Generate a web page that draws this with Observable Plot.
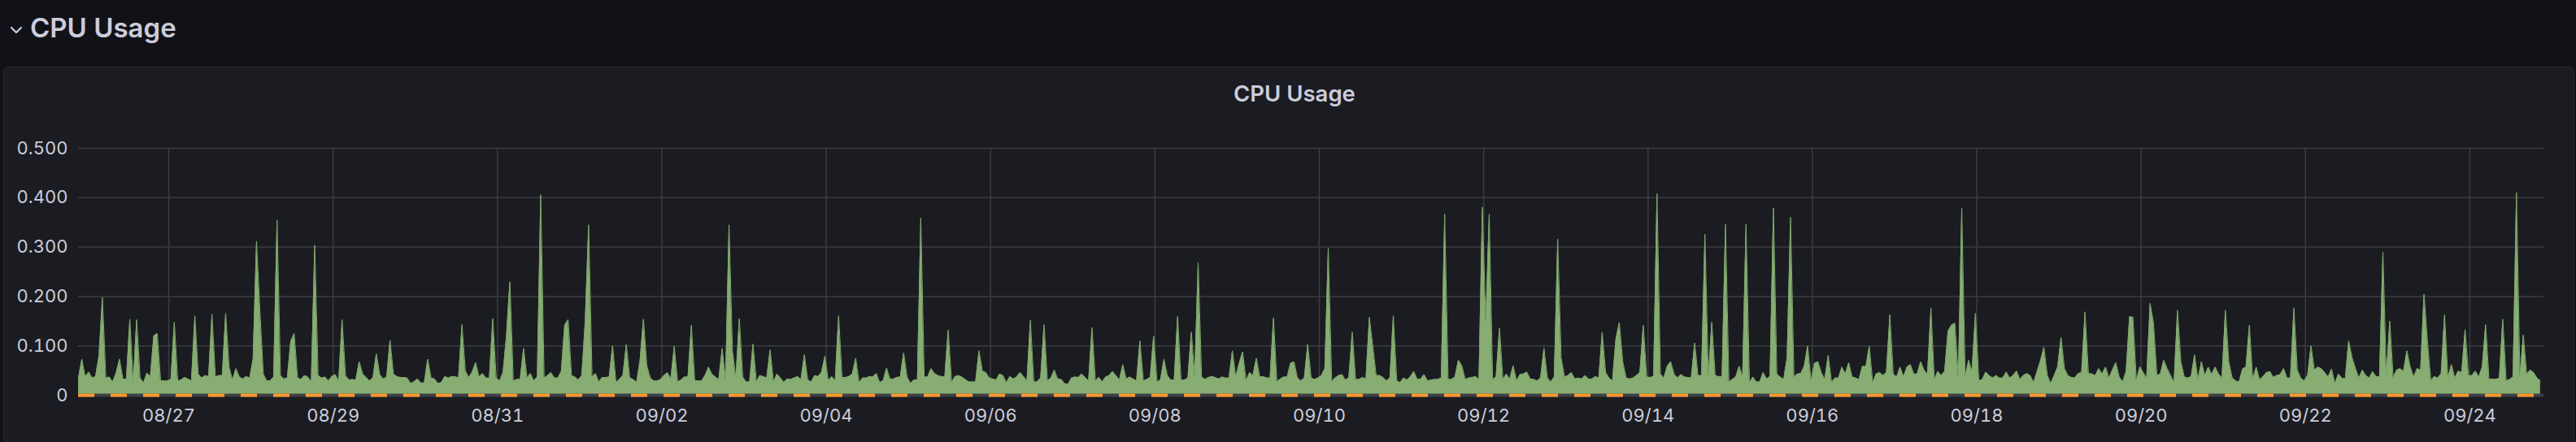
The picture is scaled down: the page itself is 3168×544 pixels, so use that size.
<!DOCTYPE html>
<html>
<head>
<meta charset="utf-8">
<script src="https://cdn.jsdelivr.net/npm/d3@7"></script>
<script src="https://cdn.jsdelivr.net/npm/@observablehq/plot@0.6"></script>
<style>
  html, body { margin: 0; padding: 0; background: #111217; width: 3168px; height: 544px; overflow: hidden; }
  body { font-family: Inter, "Open Sans", sans-serif; color: #ccccdc; position: relative; }
  #rowhead { position: absolute; left: 0; top: 0; height: 70px; width: 400px; }
  #rowtitle { position: absolute; left: 37px; top: 18px; font-size: 33px; line-height: 33px; font-weight: 600; color: #ccccdc; white-space: nowrap; }
  #panel { position: absolute; left: 4px; top: 82px; width: 3162px; height: 480px; background: #1b1c21; border: 1px solid #26272c; border-radius: 6px; box-sizing: border-box; }
  #ptitle { position: absolute; left: 0; width: 3184px; top: 101px; text-align: center; font-size: 27.5px; line-height: 28px; font-weight: 600; color: #ccccdc; }
  #chart { position: absolute; left: 0; top: 150px; }
</style>
</head>
<body>
<svg id="rowhead" width="400" height="70"><path d="M14,34 L20,40 L26,34" fill="none" stroke="#ccccdc" stroke-width="2.2" stroke-linecap="round" stroke-linejoin="round"/></svg>
<div id="rowtitle">CPU Usage</div>
<div id="panel"></div>
<div id="ptitle">CPU Usage</div>
<div id="chart"></div>
<script>
// ---- data (hourly CPU usage) ----
const seriesName = "CPU Usage";
const startTime = "2023-08-25T21:38:00Z";   // first sample
const stepHours = 1;
const cpuWeek1 = [
  .035,.073,.037,.047,.035,.038,.080,.198,.035,.037,.027,.045,.073,.033,.033,.154,.026,.153,.035,.025,.045,.038,.120,.125,
  .029,.029,.029,.032,.148,.029,.031,.036,.033,.029,.161,.043,.035,.040,.038,.164,.037,.040,.040,.166,.057,.031,.054,.037,
  .033,.038,.035,.073,.312,.170,.043,.029,.029,.037,.355,.040,.033,.035,.109,.125,.035,.032,.040,.037,.027,.304,.040,.035,
  .037,.029,.038,.042,.029,.153,.040,.031,.032,.031,.068,.043,.036,.029,.035,.084,.042,.033,.037,.111,.043,.038,.036,.036,
  .035,.024,.027,.033,.025,.025,.073,.035,.033,.024,.026,.038,.035,.038,.038,.035,.143,.049,.036,.047,.066,.037,.044,.035,
  .035,.155,.035,.029,.046,.120,.230,.029,.032,.032,.095,.035,.044,.029,.037,.406,.035,.040,.046,.035,.035,.048,.142,.153,
  .040,.037,.031,.040,.150,.345,.037,.044,.027,.036,.036,.037,.100,.026,.032,.040,.103,.035,.032,.026,.070,.154,.060,.035
];
const cpuWeek2 = [
  .029,.029,.032,.040,.046,.033,.099,.027,.031,.037,.037,.142,.029,.029,.029,.040,.057,.043,.037,.032,.095,.032,.345,.090,
  .035,.155,.037,.027,.027,.104,.027,.040,.038,.035,.092,.027,.043,.035,.026,.033,.032,.035,.038,.032,.082,.031,.027,.040,
  .038,.046,.079,.029,.038,.029,.161,.036,.036,.038,.043,.075,.025,.035,.035,.038,.037,.044,.026,.029,.055,.033,.033,.036,
  .037,.086,.037,.024,.031,.031,.359,.037,.037,.054,.044,.040,.038,.037,.132,.026,.038,.040,.037,.032,.027,.027,.027,.090,
  .049,.046,.035,.033,.031,.043,.040,.025,.038,.033,.037,.046,.038,.029,.152,.027,.027,.035,.143,.029,.035,.051,.033,.032,
  .024,.022,.035,.037,.036,.043,.036,.029,.137,.029,.036,.027,.037,.040,.048,.040,.031,.062,.033,.037,.033,.029,.110,.029,
  .032,.036,.120,.027,.031,.073,.040,.031,.031,.160,.031,.031,.035,.128,.040,.268,.037,.032,.036,.038,.036,.033,.037,.035
];
const cpuWeek3 = [
  .035,.090,.037,.065,.088,.029,.046,.040,.075,.037,.038,.035,.035,.157,.027,.033,.037,.037,.065,.068,.035,.029,.035,.103,
  .035,.032,.035,.040,.054,.298,.027,.035,.040,.042,.031,.035,.128,.032,.032,.036,.033,.158,.100,.040,.040,.036,.029,.035,
  .161,.029,.026,.035,.031,.038,.048,.032,.033,.042,.029,.031,.032,.032,.035,.367,.032,.032,.037,.071,.060,.032,.035,.036,
  .038,.032,.381,.147,.367,.032,.037,.136,.032,.043,.033,.060,.029,.042,.043,.047,.033,.032,.029,.035,.095,.035,.027,.037,
  .316,.076,.037,.040,.046,.033,.035,.033,.040,.033,.033,.038,.035,.128,.046,.035,.029,.114,.147,.068,.035,.033,.035,.040,
  .046,.142,.037,.036,.038,.408,.043,.035,.059,.068,.043,.035,.042,.037,.036,.035,.106,.040,.040,.326,.037,.148,.040,.038,
  .038,.346,.027,.032,.037,.059,.037,.346,.025,.037,.027,.027,.046,.033,.038,.379,.043,.037,.032,.076,.360,.036,.043,.044
];
const cpuWeek4 = [
  .059,.100,.029,.065,.068,.046,.032,.081,.026,.035,.035,.057,.043,.066,.037,.035,.032,.059,.058,.099,.026,.043,.046,.040,
  .046,.163,.043,.037,.057,.037,.057,.062,.043,.043,.068,.051,.043,.177,.032,.048,.040,.048,.130,.142,.146,.035,.379,.037,
  .071,.048,.166,.029,.032,.047,.040,.035,.040,.035,.035,.047,.035,.040,.049,.032,.040,.044,.040,.026,.048,.070,.097,.040,
  .024,.040,.057,.117,.054,.040,.036,.035,.044,.046,.169,.044,.043,.040,.054,.043,.057,.035,.051,.066,.037,.027,.048,.159,
  .158,.029,.058,.046,.035,.186,.147,.040,.043,.071,.054,.040,.026,.172,.068,.037,.035,.038,.082,.032,.068,.040,.057,.042,
  .057,.043,.035,.172,.068,.035,.029,.027,.053,.057,.142,.032,.057,.031,.038,.046,.048,.036,.040,.042,.054,.035,.035,.177,
  .051,.035,.029,.040,.100,.051,.057,.054,.046,.037,.053,.024,.043,.035,.033,.110,.076,.054,.035,.051,.040,.035,.048,.038
];
const cpuTail = [
  .038,.290,.038,.150,.035,.051,.054,.048,.090,.057,.037,.054,.051,.205,.110,.029,.038,.035,.043,.163,.035,.062,.035,.049,
  .046,.133,.040,.040,.049,.037,.057,.143,.032,.033,.032,.035,.154,.029,.032,.037,.410,.037,.122,.042,.051,.046,.035,.029
];
const zeroSeries = [0];
const xTickLabels = ["08/27","08/29","08/31","09/02","09/04","09/06","09/08","09/10","09/12","09/14","09/16","09/18","09/20","09/22","09/24"];
const yTicks = [0, 0.1, 0.2, 0.3, 0.4, 0.5];
const rangeHours = 720;

// ---- build ----
const cpu = [...cpuWeek1, ...cpuWeek2, ...cpuWeek3, ...cpuWeek4, ...cpuTail];
const t0 = new Date(startTime);
const HOUR = 3600 * 1000;
const data = cpu.map((v, i) => ({ time: new Date(+t0 + i * stepHours * HOUR), value: v }));
const t1 = new Date(+t0 + rangeHours * HOUR);
const xTicks = xTickLabels.map(s => new Date(`2023-${s.replace("/", "-")}T00:00:00Z`));

const chart = Plot.plot({
  width: 3168,
  height: 380,
  marginLeft: 96,
  marginRight: 40,
  marginTop: 32,
  marginBottom: 44,
  style: { background: "transparent", color: "#ccccdc", fontFamily: "Inter, sans-serif", fontSize: "22px", overflow: "visible" },
  x: { type: "utc", domain: [t0, t1], ticks: xTicks, tickFormat: d3.utcFormat("%m/%d"), tickSize: 0, tickPadding: 17, label: null },
  y: { domain: [0, 0.5], ticks: yTicks, tickFormat: d => d === 0 ? "0" : d3.format(".3f")(d), tickSize: 0, tickPadding: 13, label: null },
  marks: [
    Plot.ruleY(yTicks.filter(d => d > 0), { stroke: "#3c3d43", strokeWidth: 1.5 }),
    Plot.ruleX(xTicks, { y1: 0, y2: 0.5, stroke: "#3c3d43", strokeWidth: 1.5 }),
    Plot.areaY(data, { x: "time", y: "value", fill: "#87ad73", fillOpacity: 1, curve: "linear" }),
    Plot.lineY(data, { x: "time", y: "value", stroke: "#7fa86b", strokeWidth: 1, curve: "linear" }),
    Plot.ruleY(zeroSeries, { x1: t0, x2: t1, stroke: "#3e3f45", strokeWidth: 4 }),
    Plot.ruleY(zeroSeries, { x1: t0, x2: t1, stroke: "#ff9830", strokeWidth: 4, strokeDasharray: "20,20" })
  ]
});
document.getElementById("chart").appendChild(chart);
</script>
</body>
</html>
